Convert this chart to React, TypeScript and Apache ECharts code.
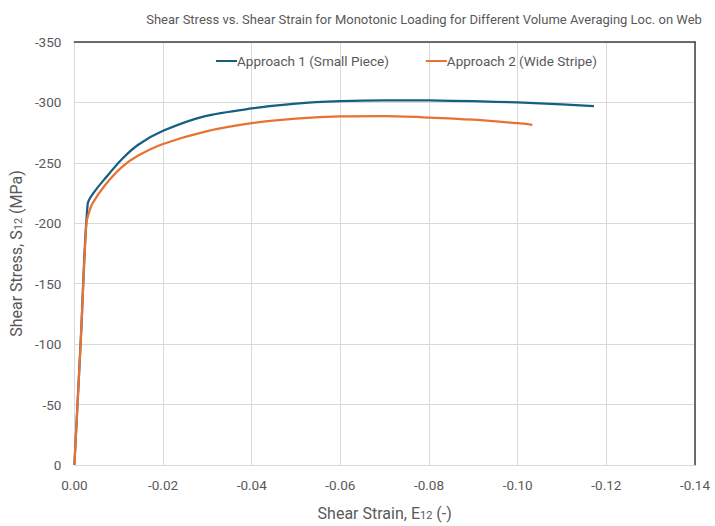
import React, { useEffect, useRef } from "react";
import * as echarts from "echarts";

const seriesNames = ["Approach 1 (Small Piece)", "Approach 2 (Wide Stripe)"];

const approach1: [number, number][] = [
  [0, 0], [-0.0015, -108], [-0.0030, -216], [-0.0045, -226], [-0.0069, -237],
  [-0.0107, -253], [-0.0144, -265], [-0.020, -276.5], [-0.0293, -288.5],
  [-0.040, -295], [-0.050, -299], [-0.060, -301], [-0.070, -301.7],
  [-0.080, -301.6], [-0.090, -301], [-0.100, -300], [-0.110, -298.4], [-0.1172, -296.9],
];

const approach2: [number, number][] = [
  [0, 0], [-0.0014, -100], [-0.0027, -200], [-0.0033, -209], [-0.0040, -216],
  [-0.0069, -231.5], [-0.0107, -246.5], [-0.0144, -256], [-0.020, -265.6],
  [-0.0293, -275.7], [-0.040, -282.8], [-0.050, -286.6], [-0.060, -288.4],
  [-0.070, -288.6], [-0.080, -287.5], [-0.090, -285.7], [-0.100, -282.8], [-0.1033, -281.4],
];

const xTicks = { min: -0.14, max: 0, interval: 0.02 };
const yTicks = { min: -350, max: 0, interval: 50 };

const colors = ["#156082", "#E97132"];

export default function App() {
  const ref = useRef<HTMLDivElement>(null);
  useEffect(() => {
    if (!ref.current) return;
    const chart = echarts.init(ref.current, null, { renderer: "svg" });
    const font = "'Liberation Sans Narrow', 'Roboto', sans-serif";
    const labelFont = "'Roboto', 'Liberation Sans', sans-serif";
    chart.setOption({
      animation: false,
      backgroundColor: "#ffffff",
      title: {
        text: "Shear Stress vs. Shear Strain for Monotonic Loading for Different Volume Averaging Loc. on Web",
        left: 419,
        textAlign: "center",
        top: 8,
        textStyle: { fontFamily: font, fontSize: 13, fontWeight: "normal", color: "#595959" },
      },
      legend: {
        top: 49,
        left: 211,
        itemGap: 37,
        itemWidth: 21,
        itemHeight: 2,
        icon: "rect",
        textStyle: { fontFamily: labelFont, fontSize: 13.5, color: "#595959", padding: [0, 0, 0, -5] },
        data: seriesNames,
      },
      grid: { left: 73, right: 20, top: 42, bottom: 57, containLabel: false },
      xAxis: [
        {
          type: "value",
          inverse: true,
          min: xTicks.min,
          max: xTicks.max,
          interval: xTicks.interval,
          axisLine: { show: true, onZero: false, lineStyle: { color: "#d9d9d9", width: 1 } },
          axisTick: { show: false },
          splitLine: { show: true, lineStyle: { color: "#d9d9d9", width: 1 } },
          axisLabel: {
            fontFamily: labelFont,
            fontSize: 13.5,
            color: "#595959",
            margin: 13,
            formatter: (v: number) => (Math.abs(v) < 1e-9 ? "0.00" : v.toFixed(2)),
          },
          name: "{a|Shear Strain, E}{s|12}{a| (-)}",
          nameLocation: "middle",
          nameGap: 36,
          nameTextStyle: {
            rich: {
              a: { fontFamily: labelFont, fontSize: 16, color: "#595959", verticalAlign: "bottom", lineHeight: 20 },
              s: { fontFamily: labelFont, fontSize: 11, color: "#595959", verticalAlign: "bottom", lineHeight: 14 },
            },
          },
        },
        {
          type: "value",
          position: "top",
          inverse: true,
          min: xTicks.min,
          max: xTicks.max,
          interval: xTicks.interval,
          axisLine: { show: true, onZero: false, lineStyle: { color: "#404040", width: 1.5 } },
          axisTick: { show: false },
          axisLabel: { show: false },
          splitLine: { show: false },
        },
      ],
      yAxis: [
        {
          type: "value",
          inverse: true,
          min: yTicks.min,
          max: yTicks.max,
          interval: yTicks.interval,
          axisLine: { show: true, onZero: false, lineStyle: { color: "#d9d9d9", width: 1 } },
          axisTick: { show: false },
          splitLine: { show: true, lineStyle: { color: "#d9d9d9", width: 1 } },
          axisLabel: {
            fontFamily: labelFont,
            fontSize: 13.5,
            color: "#595959",
            margin: 13,
            formatter: (v: number) => (Math.abs(v) < 1e-9 ? "0" : String(v)),
          },
          name: "{a|Shear Stress, S}{s|12}{a| (MPa)}",
          nameLocation: "middle",
          nameGap: 47,
          nameRotate: 90,
          nameTextStyle: {
            rich: {
              a: { fontFamily: labelFont, fontSize: 16, color: "#595959", verticalAlign: "bottom", lineHeight: 20 },
              s: { fontFamily: labelFont, fontSize: 11, color: "#595959", verticalAlign: "bottom", lineHeight: 14 },
            },
          },
        },
        {
          type: "value",
          position: "right",
          inverse: true,
          min: yTicks.min,
          max: yTicks.max,
          interval: yTicks.interval,
          axisLine: { show: true, onZero: false, lineStyle: { color: "#404040", width: 1.5 } },
          axisTick: { show: false },
          axisLabel: { show: false },
          splitLine: { show: false },
        },
      ],
      series: [
        {
          name: seriesNames[0],
          type: "line",
          data: approach1,
          showSymbol: false,
          smooth: 0.3,
          lineStyle: { color: colors[0], width: 2.25 },
          itemStyle: { color: colors[0] },
        },
        {
          name: seriesNames[1],
          type: "line",
          data: approach2,
          showSymbol: false,
          smooth: 0.3,
          lineStyle: { color: colors[1], width: 2.25 },
          itemStyle: { color: colors[1] },
        },
      ],
    });
    return () => chart.dispose();
  }, []);
  return <div ref={ref} style={{ width: 715, height: 526, position: "absolute", left: 0, top: 0 }} />;
}
